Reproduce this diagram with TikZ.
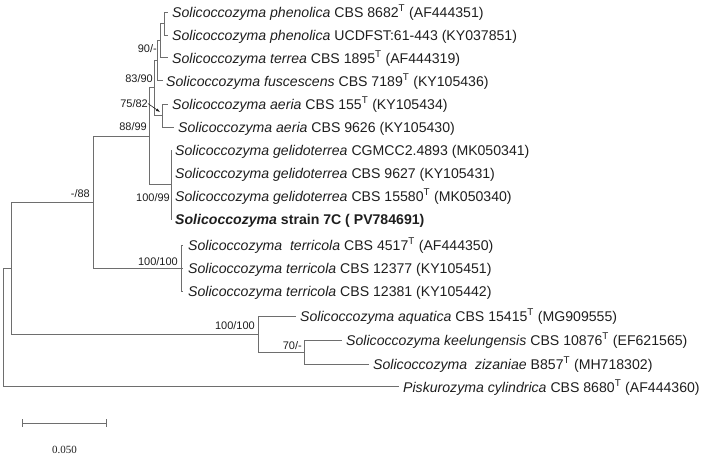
\documentclass[tikz,border=0pt]{standalone}
\usepackage{fontspec}
\setmainfont{Liberation Sans}
\newfontfamily\scalefont{Liberation Serif}
\usetikzlibrary{arrows.meta}
\definecolor{branch}{HTML}{6E6E6E}
\definecolor{ink}{HTML}{1E1E1E}
\begin{document}
\begin{tikzpicture}[x=1pt,y=-1pt,
  br/.style={draw=branch, line width=0.9pt},
  taxon/.style={anchor=base west, font=\fontsize{14.1}{16}\selectfont, inner sep=0pt, text=ink},
  boot/.style={anchor=base east, font=\fontsize{11}{13}\selectfont, inner sep=0pt, text=ink},
  scalelab/.style={anchor=base, font=\scalefont\fontsize{11}{13}\selectfont, inner sep=0pt, text=ink},
  pointer/.style={draw=ink, line width=0.6pt, -{Latex[length=4pt,width=3pt]}},
]
\useasboundingbox (0,0) rectangle (702,456);

% leaf tips
\coordinate (l1) at (168,12);
\coordinate (l2) at (168,35);
\coordinate (l3) at (168,57);
\coordinate (l4) at (163,80);
\coordinate (l5) at (168,104);
\coordinate (l6) at (174,127);
\coordinate (l7) at (172,150);
\coordinate (l8) at (172,173);
\coordinate (l9) at (172,196);
\coordinate (l10) at (172,219);
\coordinate (l11) at (183,245);
\coordinate (l12) at (183,268);
\coordinate (l13) at (183,291);
\coordinate (l14) at (296,316);
\coordinate (l15) at (342,340);
\coordinate (l16) at (369,364);
\coordinate (l17) at (399,386);

% internal nodes
\coordinate (P1) at (164,23.5);
\coordinate (P2) at (160,40.25);
\coordinate (P3) at (157,60.1);
\coordinate (N75) at (162,115.5);
\coordinate (N83) at (154,87.8);
\coordinate (G) at (171,184.5);
\coordinate (N88) at (149,136.2);
\coordinate (T) at (181,268);
\coordinate (N93) at (93,202.1);
\coordinate (N70) at (304,352);
\coordinate (AQ) at (258,334);
\coordinate (N11) at (11,268);
\coordinate (root) at (3,327);

% branches
\draw[br] (P1) |- (l1);
\draw[br] (P1) |- (l2);
\draw[br] (P2) |- (P1);
\draw[br] (P2) |- (l3);
\draw[br] (P3) |- (P2);
\draw[br] (P3) |- (l4);
\draw[br] (N75) |- (l5);
\draw[br] (N75) |- (l6);
\draw[br] (N83) |- (P3);
\draw[br] (N83) |- (N75);
\draw[br] (G) |- (l7);
\draw[br] (G) |- (l8);
\draw[br] (G) |- (l9);
\draw[br] (G) |- (l10);
\draw[br] (N88) |- (N83);
\draw[br] (N88) |- (G);
\draw[br] (T) |- (l11);
\draw[br] (T) -- (l12);
\draw[br] (T) |- (l13);
\draw[br] (N93) |- (N88);
\draw[br] (N93) |- (T);
\draw[br] (N70) |- (l15);
\draw[br] (N70) |- (l16);
\draw[br] (AQ) |- (l14);
\draw[br] (AQ) |- (N70);
\draw[br] (N11) |- (N93);
\draw[br] (N11) |- (AQ);
\draw[br] (root) |- (N11);
\draw[br] (root) |- (l17);

% taxa
\node[taxon] (t1) at (172,17) {\textit{Solicoccozyma phenolica} CBS 8682\textsuperscript{T} (AF444351)};
\node[taxon] (t2) at (172,40) {\textit{Solicoccozyma phenolica} UCDFST:61-443 (KY037851)};
\node[taxon] (t3) at (172,63) {\textit{Solicoccozyma terrea} CBS 1895\textsuperscript{T} (AF444319)};
\node[taxon] (t4) at (166,86) {\textit{Solicoccozyma fuscescens} CBS 7189\textsuperscript{T} (KY105436)};
\node[taxon] (t5) at (172,109) {\textit{Solicoccozyma aeria} CBS 155\textsuperscript{T} (KY105434)};
\node[taxon] (t6) at (178,132) {\textit{Solicoccozyma aeria} CBS 9626 (KY105430)};
\node[taxon] (t7) at (175,155) {\textit{Solicoccozyma gelidoterrea} CGMCC2.4893 (MK050341)};
\node[taxon] (t8) at (175,178) {\textit{Solicoccozyma gelidoterrea} CBS 9627 (KY105431)};
\node[taxon] (t9) at (175,201) {\textit{Solicoccozyma gelidoterrea} CBS 15580\textsuperscript{T} (MK050340)};
\node[taxon] (t10) at (175,224) {\textbf{\textit{Solicoccozyma} strain 7C ( PV784691)}};
\node[taxon] (t11) at (188,250) {\textit{Solicoccozyma\ \ terricola} CBS 4517\textsuperscript{T} (AF444350)};
\node[taxon] (t12) at (188,273) {\textit{Solicoccozyma terricola} CBS 12377 (KY105451)};
\node[taxon] (t13) at (188,296) {\textit{Solicoccozyma terricola} CBS 12381 (KY105442)};
\node[taxon] (t14) at (300,321) {\textit{Solicoccozyma aquatica} CBS 15415\textsuperscript{T} (MG909555)};
\node[taxon] (t15) at (346,345) {\textit{Solicoccozyma keelungensis} CBS 10876\textsuperscript{T} (EF621565)};
\node[taxon] (t16) at (373,369) {\textit{Solicoccozyma\ \ zizaniae} B857\textsuperscript{T} (MH718302)};
\node[taxon] (t17) at (403,392) {\textit{Piskurozyma cylindrica} CBS 8680\textsuperscript{T} (AF444360)};

% support values
\node[boot] (b90) at (157,52) {90/-};
\node[boot] (b83) at (153,82) {83/90};
\node[boot] (b75) at (148,107.5) {75/82};
\node[boot] (b88) at (147,130) {88/99};
\node[boot] (b100g) at (170,201) {100/99};
\node[boot] (bm88) at (90,197) {-/88};
\node[boot] (b100t) at (178,265) {100/100};
\node[boot] (b100a) at (255,329) {100/100};
\node[boot] (b70) at (302,349) {70/-};
\coordinate (a75) at (160,112);
\draw[pointer] (b75.east) -- (a75);

% scale bar
\coordinate (sb1) at (22.5,423);
\coordinate (sb2) at (106.5,423);
\draw[br] (sb1) -- (sb2);
\draw[br] (sb1) ++(0,-4) -- ++(0,8);
\draw[br] (sb2) ++(0,-4) -- ++(0,8);
\node[scalelab] (sbl) at (64.5,453) {0.050};
\end{tikzpicture}
\end{document}
